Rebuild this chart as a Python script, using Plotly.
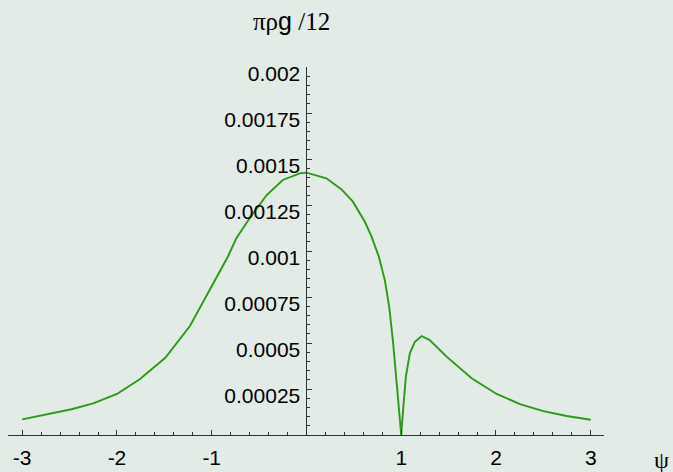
import plotly.graph_objects as go

# curve samples
psi = [-3.0, -2.71, -2.48, -2.25, -2.0, -1.76, -1.49, -1.23, -1.0, -0.83, -0.74, -0.6,
       -0.42, -0.25, -0.07, 0.0, 0.21, 0.37, 0.49, 0.616, 0.687, 0.764, 0.827, 0.873,
       0.915, 0.951, 0.978, 1.0, 1.02, 1.049, 1.091, 1.144, 1.215, 1.30, 1.479, 1.743,
       2.007, 2.253, 2.50, 2.746, 3.0]
val = [8.5e-5, 1.14e-4, 1.40e-4, 1.72e-4, 2.23e-4, 3.03e-4, 4.20e-4, 5.92e-4, 8.06e-4,
       9.69e-4, 1.069e-3, 1.178e-3, 1.304e-3, 1.386e-3, 1.422e-3, 1.426e-3, 1.395e-3,
       1.335e-3, 1.268e-3, 1.159e-3, 1.078e-3, 9.69e-4, 8.42e-4, 6.97e-4, 4.98e-4,
       2.81e-4, 9.9e-5, 0.0, 1.36e-4, 3.17e-4, 4.44e-4, 5.07e-4, 5.38e-4, 5.16e-4,
       4.26e-4, 3.08e-4, 2.23e-4, 1.68e-4, 1.30e-4, 1.03e-4, 8.3e-5]

x_tickvals = [-3, -2, -1, 1, 2, 3]
x_ticktext = ["-3", "-2", "-1", "1", "2", "3"]
y_tickvals = [0.00025, 0.0005, 0.00075, 0.001, 0.00125, 0.0015, 0.00175, 0.002]
y_ticktext = ["0.00025", "0.0005", "0.00075", "0.001", "0.00125", "0.0015", "0.00175", "0.002"]

title_text = "πρ<span style='font-family:Liberation Sans'>g</span> /12"
x_label = "ψ"

BG = "#e3ebe7"
AX = "#333333"
XMIN, XMAX = -3.15, 3.14

fig = go.Figure()
fig.add_trace(go.Scatter(x=psi, y=val, mode="lines",
                         line=dict(color="#2a9a14", width=1.9), showlegend=False,
                         cliponaxis=False))

fig.update_layout(
    width=673, height=472,
    margin=dict(l=8, r=69, t=67, b=37, autoexpand=False),
    paper_bgcolor=BG, plot_bgcolor=BG,
    font=dict(family="Liberation Sans", size=21, color="black"),
    xaxis=dict(range=[XMIN, XMAX], showgrid=False, zeroline=False, automargin=False,
               showline=True, linecolor=AX, linewidth=1,
               tickmode="array", tickvals=x_tickvals, ticktext=x_ticktext,
               ticks="inside", ticklen=5, tickcolor=AX, tickwidth=1,
               ticklabelstandoff=4,
               minor=dict(tickmode="linear", tick0=0, dtick=0.2, ticks="inside",
                          ticklen=3, tickcolor=AX, showgrid=False)),
    yaxis=dict(range=[0, 0.002], showgrid=False, zeroline=False, automargin=False,
               anchor="free", position=(0 - XMIN) / (XMAX - XMIN),
               showline=True, linecolor=AX, linewidth=1,
               tickmode="array", tickvals=y_tickvals, ticktext=y_ticktext,
               ticks="inside", ticklen=5, tickcolor=AX, tickwidth=1,
               ticklabelstandoff=2, ticklabelshift=7,
               minor=dict(tickmode="linear", tick0=0, dtick=0.00005, ticks="inside",
                          ticklen=3, tickcolor=AX, showgrid=False)),
    annotations=[
        dict(text=title_text, xref="paper", yref="paper", x=0.475, y=1.125,
             xanchor="center", yanchor="middle", showarrow=False,
             font=dict(family="Liberation Serif", size=25, color="black")),
        dict(text=x_label, xref="paper", yref="paper", x=1.097, y=-0.068,
             xanchor="center", yanchor="middle", showarrow=False,
             font=dict(family="Liberation Serif", size=24, color="black")),
    ],
)

fig.write_html("out.html")
